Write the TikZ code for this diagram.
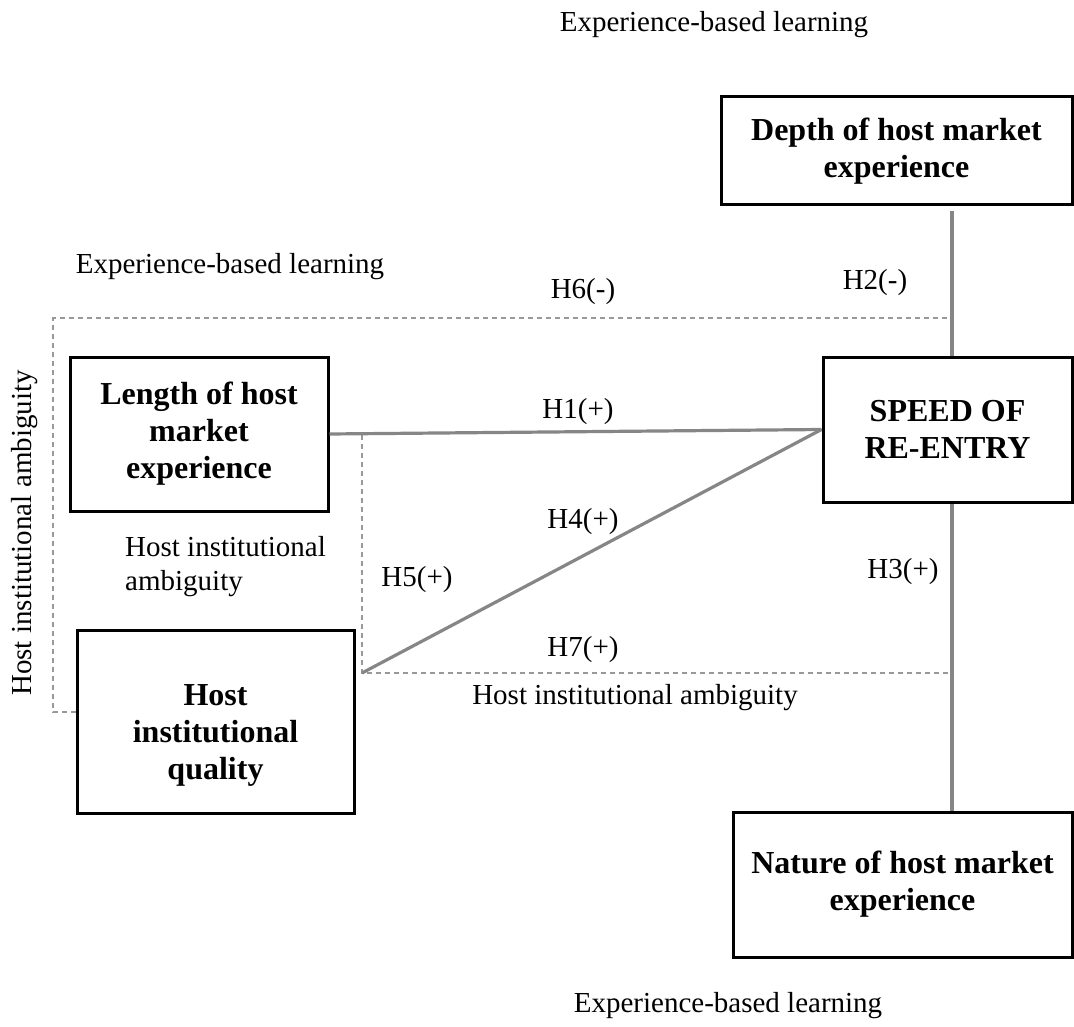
\documentclass[tikz,border=0pt]{standalone}
\usepackage{fontspec}
\setmainfont{Liberation Serif}
\begin{document}
\begin{tikzpicture}[x=1pt,y=-1pt,
  box/.style={draw=black,line width=3pt,align=center,inner sep=0pt,font=\fontsize{32}{37}\selectfont\bfseries},
  boxtext/.style={align=center,inner sep=0pt,font=\fontsize{32}{37}\selectfont\bfseries},
  conn/.style={draw=gray!95,line width=3.2pt},
  dashline/.style={draw=gray!80,line width=1.2pt,dash pattern=on 5pt off 4pt},
  lbl/.style={font=\fontsize{29}{34}\selectfont,inner sep=0pt}
]
\useasboundingbox[fill=white] (0,0) rectangle (1074,1027);
% boxes
\node[box,minimum width=351pt,minimum height=108pt] (Depth) at (896.5,151) {Depth of host market\\experience};
\node[box,minimum width=249pt,minimum height=145pt] (SPEED) at (947.5,429.5) {SPEED OF\\RE-ENTRY};
\node[box,minimum width=258pt,minimum height=154pt] (Length) at (199,434) {Length of host\\market\\experience};
\node[box,minimum width=277pt,minimum height=183pt] (Quality) at (215.5,721.5) {};
\node[boxtext] (QualityText) at ([yshift=-14pt]Quality.center) {Host\\institutional\\quality};
\node[box,minimum width=339pt,minimum height=145pt] (Nature) at (902.5,884.5) {Nature of host market\\experience};
% helper coordinates
\coordinate (xline) at (952,0);
\coordinate (d1a) at (53,712);
\coordinate (d1b) at (53,318);
\coordinate (d1c) at (952,318);
\coordinate (d2a) at (362,435);
\coordinate (d2b) at (362,673);
\coordinate (d2c) at (952,673);
% dashed moderation paths
\draw[dashline] (Quality.west |- d1a) -- (d1a) -- (d1b) -- (d1c);
\draw[dashline] (d2a) -- (d2b) -- (d2c);
% connectors
\draw[conn] ([yshift=-5pt]Depth.south -| xline) -- (SPEED.north -| xline);
\draw[conn] (SPEED.south -| xline) -- (Nature.north -| xline);
\draw[conn] (Length.east) -- (SPEED.west);
\draw[conn] (d2b) -- (SPEED.west);
% labels
\node[lbl] (t1) at (714,25) {Experience-based learning};
\node[lbl] (t2) at (230,267) {Experience-based learning};
\node[lbl] (t3) at (728,1006) {Experience-based learning};
\node[lbl] (h6) at (583,292) {H6(-)};
\node[lbl] (h2) at (875,283) {H2(-)};
\node[lbl] (h1) at (578,412) {H1(+)};
\node[lbl] (h4) at (583,522) {H4(+)};
\node[lbl] (h5) at (417,580) {H5(+)};
\node[lbl] (h7) at (583,650) {H7(+)};
\node[lbl] (h3) at (903,572) {H3(+)};
\node[lbl] (a1) at (635,698) {Host institutional ambiguity};
\node[lbl,align=left,anchor=west] (a2) at (125,567) {Host institutional\\ambiguity};
\node[lbl,rotate=90] (a3) at (25,533) {Host institutional ambiguity};
\end{tikzpicture}
\end{document}
